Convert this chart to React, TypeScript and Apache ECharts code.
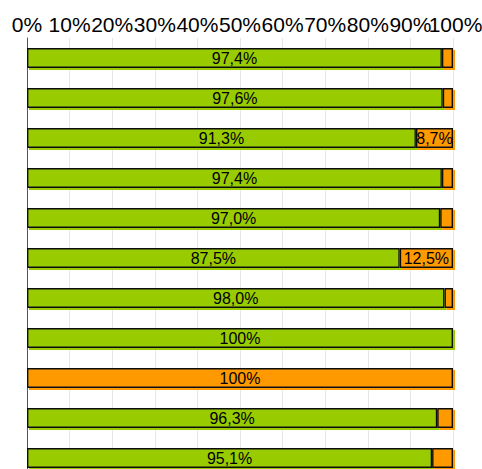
import React, { useEffect, useRef } from "react";
import * as echarts from "echarts";

const categories = ["1", "2", "3", "4", "5", "6", "7", "8", "9", "10", "11"];
const greenValues = [97.4, 97.6, 91.3, 97.4, 97.0, 87.5, 98.0, 100, 0, 96.3, 95.1];
const orangeValues = [2.6, 2.4, 8.7, 2.6, 3.0, 12.5, 2.0, 0, 100, 3.7, 4.9];

const fmt = (v: number) => {
  if (v < 5) return "";
  if (v === 100) return "100%";
  return v.toFixed(1).replace(".", ",") + "%";
};

export default function App() {
  const ref = useRef<HTMLDivElement>(null);
  useEffect(() => {
    if (!ref.current) return;
    const chart = echarts.init(ref.current, undefined, { renderer: "svg" });
    const font = "'Liberation Sans', Arial, sans-serif";
    const mk = (name: string, data: number[], color: string) => ({
      name,
      type: "bar",
      stack: "total",
      data,
      barWidth: 20,
      itemStyle: {
        color,
        borderColor: "#111",
        borderWidth: 1.4,
        shadowColor: color,
        shadowBlur: 0,
        shadowOffsetX: 2,
        shadowOffsetY: 2,
      },
      label: {
        show: true,
        position: "inside",
        color: "#000",
        fontSize: 16,
        fontFamily: font,
        formatter: (p: any) => fmt(p.value),
      },
    });
    const baseLabel = {
      color: "#000",
      fontSize: 21,
      fontFamily: font,
      margin: 3,
      hideOverlap: false,
    };
    chart.setOption({
      animation: false,
      grid: {
        left: 27,
        top: 38,
        width: 426,
        height: 440,
        containLabel: false,
        outerBoundsMode: "none",
      },
      xAxis: [
        {
          type: "value",
          position: "top",
          min: 0,
          max: 100,
          interval: 10,
          axisLine: { show: false },
          axisTick: { show: false },
          splitLine: { show: true, lineStyle: { color: "#e6e6e6", width: 1 } },
          axisLabel: {
            ...baseLabel,
            showMaxLabel: false,
            formatter: (v: number) => (v === 100 ? "" : v + "%"),
          },
        },
        {
          type: "value",
          position: "top",
          min: 0,
          max: 100,
          interval: 10,
          axisLine: { show: false },
          axisTick: { show: false },
          splitLine: { show: false },
          axisLabel: {
            ...baseLabel,
            showMaxLabel: true,
            showMinLabel: false,
            padding: [0, 0, 0, 5],
            formatter: (v: number) => (v === 100 ? "100%" : ""),
          },
        },
      ],
      yAxis: {
        type: "category",
        data: categories,
        inverse: true,
        axisLine: { show: true, lineStyle: { color: "#555", width: 1 } },
        axisTick: { show: false },
        axisLabel: { show: false },
        splitLine: { show: false },
      },
      series: [mk("green", greenValues, "#99cc00"), mk("orange", orangeValues, "#ff9900")],
    });
    return () => chart.dispose();
  }, []);
  return (
    <div style={{ position: "fixed", left: 0, top: 0, width: 482, height: 469, overflow: "hidden", background: "#fff" }}>
      <div ref={ref} style={{ width: 482, height: 490 }} />
    </div>
  );
}
